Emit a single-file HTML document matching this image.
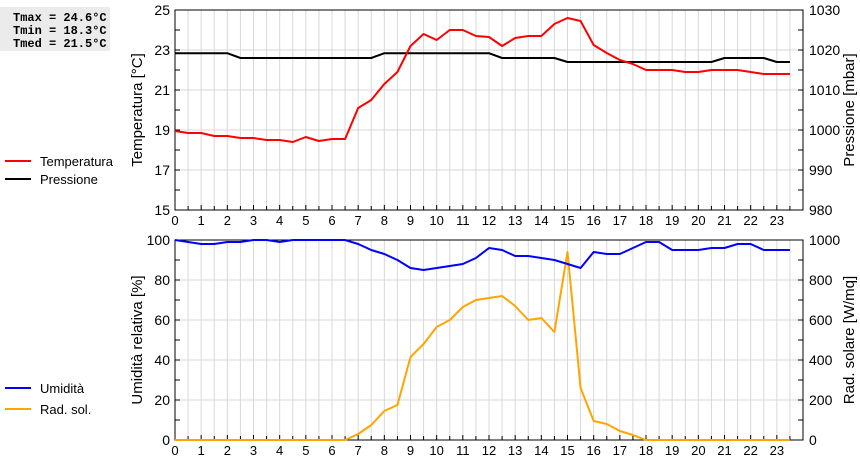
<!DOCTYPE html>
<html><head><meta charset="utf-8"><style>
body{margin:0;background:#fff;width:860px;height:460px;overflow:hidden}
svg{display:block;font-family:"Liberation Sans",sans-serif}
</style></head><body>
<svg id="c" width="860" height="460">
<rect x="0" y="7" width="110" height="44" fill="#ebebeb"/>
<g font-family="Liberation Mono,monospace" font-size="12" font-weight="bold" fill="#000">
<text x="13" y="21">Tmax = 24.6°C</text><text x="13" y="34">Tmin = 18.3°C</text><text x="13" y="47">Tmed = 21.5°C</text></g>
<g font-size="13">
<line x1="5" y1="161" x2="31" y2="161" stroke="#f00" stroke-width="2"/><text x="40" y="166">Temperatura</text>
<line x1="5" y1="179" x2="31" y2="179" stroke="#000" stroke-width="2"/><text x="40" y="184">Pressione</text></g>
<g font-size="13">
<line x1="5" y1="388" x2="31" y2="388" stroke="#00f" stroke-width="2"/><text x="40" y="393">Umidità</text>
<line x1="5" y1="409" x2="31" y2="409" stroke="#ffa500" stroke-width="2"/><text x="40" y="414">Rad. sol.</text></g>
<text transform="translate(142,110) rotate(-90)" text-anchor="middle" font-size="15">Temperatura [°C]</text>
<text transform="translate(854,110) rotate(-90)" text-anchor="middle" font-size="15">Pressione [mbar]</text>
<text transform="translate(142,340) rotate(-90)" text-anchor="middle" font-size="15">Umidità relativa [%]</text>
<text transform="translate(854,340) rotate(-90)" text-anchor="middle" font-size="15">Rad. solare [W/mq]</text>
</svg>
<script>
const hours=[0,0.5,1,1.5,2,2.5,3,3.5,4,4.5,5,5.5,6,6.5,7,7.5,8,8.5,9,9.5,10,10.5,11,11.5,12,12.5,13,13.5,14,14.5,15,15.5,16,16.5,17,17.5,18,18.5,19,19.5,20,20.5,21,21.5,22,22.5,23,23.5];
const temperature=[18.95,18.85,18.85,18.7,18.7,18.6,18.6,18.5,18.5,18.4,18.65,18.45,18.55,18.55,20.1,20.5,21.3,21.9,23.2,23.8,23.5,24.0,24.0,23.7,23.65,23.2,23.6,23.7,23.7,24.3,24.6,24.45,23.25,22.85,22.5,22.3,22.0,22.0,22.0,21.9,21.9,22.0,22.0,22.0,21.9,21.8,21.8,21.8];
const pressure=[1019.2,1019.2,1019.2,1019.2,1019.2,1018,1018,1018,1018,1018,1018,1018,1018,1018,1018,1018,1019.2,1019.2,1019.2,1019.2,1019.2,1019.2,1019.2,1019.2,1019.2,1018,1018,1018,1018,1018,1017,1017,1017,1017,1017,1017,1017,1017,1017,1017,1017,1017,1018,1018,1018,1018,1017,1017];
const humidity=[100,99,98,98,99,99,100,100,99,100,100,100,100,100,98,95,93,90,86,85,86,87,88,91,96,95,92,92,91,90,88,86,94,93,93,96,99,99,95,95,95,96,96,98,98,95,95,95];
const radiation=[0,0,0,0,0,0,0,0,0,0,0,0,0,0,30,75,145,175,415,480,565,600,665,700,710,720,670,600,610,540,940,260,95,80,45,25,0,0,0,0,0,0,0,0,0,0,0,0];
const tempTicks=[15,17,19,21,23,25];
const pressTicks=[980,990,1000,1010,1020,1030];
const humTicks=[0,20,40,60,80,100];
const radTicks=[0,200,400,600,800,1000];
const NS='http://www.w3.org/2000/svg',svg=document.getElementById('c');
const X0=175,X1=803;
const xs=h=>X0+(X1-X0)*h/24;
function mk(t,a,p){const e=document.createElementNS(NS,t);for(const k in a)e.setAttribute(k,a[k]);(p||svg).appendChild(e);return e;}
function panel(top,bot,lMin,lMax,lT,rMin,rMax,rT,name){
 const g=mk('g',{});
 
 
 const yl=v=>bot-(bot-top)*(v-lMin)/(lMax-lMin);
 const yr=v=>bot-(bot-top)*(v-rMin)/(rMax-rMin);
 for(let h=0.5;h<24;h+=0.5){mk('line',{x1:xs(h),x2:xs(h),y1:top,y2:bot,stroke:'#d8d8d8'},g);}
 lT.forEach((v,i)=>{const y=yl(v);
  if(i>0&&i<lT.length-1)mk('line',{x1:X0,x2:X1,y1:y,y2:y,stroke:'#d8d8d8'},g);
  mk('line',{x1:X0,x2:X0+5,y1:y,y2:y,stroke:'#000'},g);mk('line',{x1:X1-5,x2:X1,y1:y,y2:y,stroke:'#000'},g);
  if(i<lT.length-1){const m=(y+yl(lT[i+1]))/2;mk('line',{x1:X0,x2:X0+5,y1:m,y2:m,stroke:'#000'},g);mk('line',{x1:X1-5,x2:X1,y1:m,y2:m,stroke:'#000'},g);}
  const t=mk('text',{x:X0-5,y:y+5,'text-anchor':'end','font-size':14},g);t.textContent=v;
  
  });
 rT.forEach(v=>{const t=mk('text',{x:X1+6,y:yr(v)+5,'font-size':14},g);t.textContent=v;
  
  });
 for(let h=0.5;h<24;h+=0.5){const len=Number.isInteger(h)?5:4;mk('line',{x1:xs(h),x2:xs(h),y1:bot,y2:bot-len,stroke:'#000'},g);}
 for(let h=0;h<24;h++){const t=mk('text',{x:xs(h),y:bot+15,'text-anchor':'middle','font-size':13},g);t.textContent=h;
  
  }
 mk('rect',{x:X0,y:top,width:X1-X0,height:bot-top,fill:'none',stroke:'#000','stroke-width':1},g);
 return {yl,yr,g};
}
function line(vals,yf,color,name,g){
 const p=mk('polyline',{points:vals.map((v,i)=>xs(hours[i])+','+yf(v)).join(' '),fill:'none',stroke:color,'stroke-width':2,'stroke-linejoin':'round'},g);
 
 
}
const a=panel(10,210,15,25,tempTicks,980,1030,pressTicks,'top');
line(pressure,a.yr,'#000','pressure-line',a.g);
line(temperature,a.yl,'#f00','temperature-line',a.g);
const b=panel(240,440,0,100,humTicks,0,1000,radTicks,'bottom');
line(radiation,b.yr,'#ffa500','radiation-line',b.g);
line(humidity,b.yl,'#00f','humidity-line',b.g);
</script>
</body></html>
